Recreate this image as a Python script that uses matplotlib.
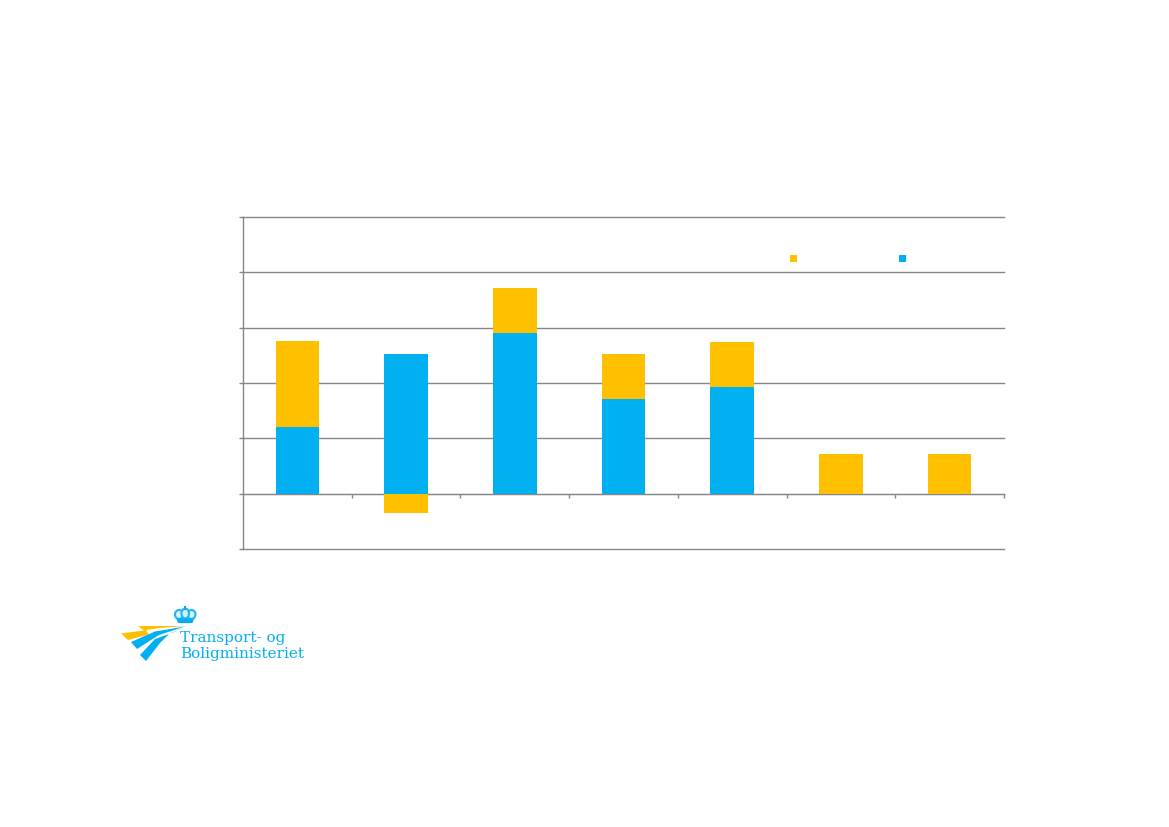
import matplotlib
matplotlib.use("Agg")
import matplotlib.pyplot as plt
from matplotlib.patches import Polygon, Rectangle, Ellipse

W, H = 1169, 827
categories = ["1", "2", "3", "4", "5", "6", "7"]
blue_values = [1.21, 2.53, 2.91, 1.71, 1.93, 0.0, 0.0]
yellow_values = [1.55, -0.35, 0.81, 0.82, 0.81, 0.72, 0.72]
y_ticks = [-1, 0, 1, 2, 3, 4, 5]

YELLOW = "#FFC000"
BLUE = "#00B0F0"
AXIS = "#868686"

fig = plt.figure(figsize=(W / 100, H / 100), dpi=100, facecolor="white")
ax = fig.add_axes([243 / W, 1 - 549 / H, (1004 - 243) / W, (549 - 217) / H])

x = list(range(len(categories)))
bottoms = [b if y > 0 else 0 for b, y in zip(blue_values, yellow_values)]
ax.bar(x, blue_values, width=0.4, color=BLUE, zorder=3)
ax.bar(x, yellow_values, width=0.4, bottom=bottoms, color=YELLOW, zorder=3)

ax.set_xlim(-0.5, 6.5)
ax.set_ylim(-1, 5)
ax.set_yticks(y_ticks)
ax.yaxis.grid(True, color=AXIS, lw=1, zorder=1)
for line in ax.yaxis.get_gridlines():
    line.set_clip_on(False)
ax.set_axisbelow(True)
ax.tick_params(axis="y", length=3, width=1, color=AXIS, labelleft=False)
ax.set_xticks([i + 0.5 for i in x])
ax.tick_params(axis="x", length=3, width=1, color=AXIS, labelbottom=False)
for s in ("top", "right"):
    ax.spines[s].set_visible(False)
ax.spines["left"].set_color(AXIS)
ax.spines["bottom"].set_color(AXIS)
ax.spines["bottom"].set_position(("data", 0))
ax.spines["left"].set_linewidth(1)


def px(points):
    return [(a / W, 1 - b / H) for a, b in points]


def add(p):
    p.set_transform(fig.transFigure)
    fig.add_artist(p)


# legend swatches (the reference shows no legible legend text)
for left, colour in ((790, YELLOW), (899, BLUE)):
    add(Rectangle((left / W, 1 - 262 / H), 7 / W, 7 / H, color=colour, lw=0))

# logo
add(Polygon(px([(185, 626), (138, 626), (144, 630.5), (121, 633.5), (128, 640),
                (149, 634.5), (146, 630), (160, 628)]),
            closed=True, color=YELLOW, lw=0))
add(Polygon(px([(185, 626.5), (155, 631.5), (131, 642), (137, 649), (159, 635)]),
            closed=True, color=BLUE, lw=0))
add(Polygon(px([(185, 627), (172, 633), (155, 639), (140, 655), (146, 661),
                (160, 643), (169, 634)]), closed=True, color=BLUE, lw=0))
# crown
for cx, cy, w, h in ((179, 614.5, 8, 9), (191.5, 614.5, 8, 9), (185.2, 613.5, 7.5, 10)):
    add(Ellipse((cx / W, 1 - cy / H), w / W, h / H, facecolor="#D5F1FC",
                edgecolor="#1FB6F1", lw=1.5))
add(Polygon(px([(176.5, 618.5), (194, 618.5), (192.5, 623), (178, 623)]),
            closed=True, color=BLUE, lw=0))
add(Rectangle((184.3 / W, 1 - 609.5 / H), 2 / W, 4 / H, color=BLUE, lw=0))

for text, ypx in (("Transport- og", 638), ("Boligministeriet", 654)):
    fig.text(180 / W, 1 - ypx / H, text, color="#00AEEF", fontsize=10.95,
             family="DejaVu Serif", va="center", ha="left")

fig.savefig("out.png", dpi=100)
